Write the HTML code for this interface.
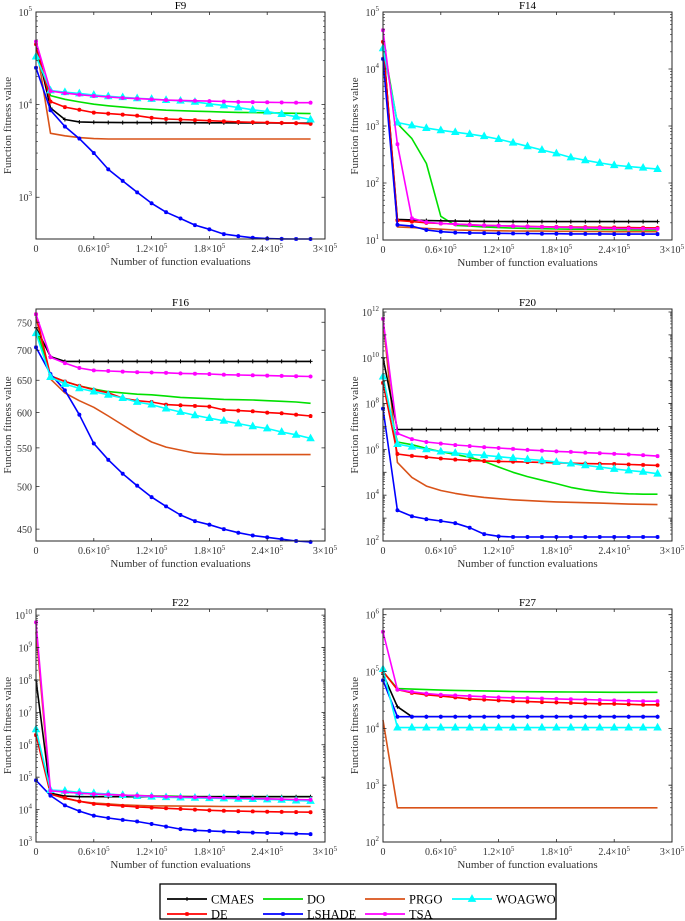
<!DOCTYPE html>
<html><head><meta charset="utf-8">
<style>
body{margin:0;background:#fff;}
svg{display:block;font-family:"Liberation Serif",serif;}
</style></head>
<body>
<svg id="fig" width="685" height="921" viewBox="0 0 685 921" xmlns="http://www.w3.org/2000/svg"></svg>
<script>
const evals = [0,15000,30000,45000,60000,75000,90000,105000,120000,135000,150000,165000,180000,195000,210000,225000,240000,255000,270000,285000];
const seriesNames = ["CMAES","DE","DO","LSHADE","PRGO","TSA","WOAGWO"];
const xTicks = [0,60000,120000,180000,240000,300000];
const xTickLabels = ["0","0.6","1.2","1.8","2.4","3"];

const f9CMAES = [45000,9200,6900,6500,6450,6420,6400,6400,6400,6400,6400,6380,6370,6360,6350,6340,6330,6320,6310,6300];
const f9DE = [45000,10800,9400,8800,8200,8000,7800,7600,7200,7000,6900,6800,6700,6600,6500,6450,6400,6350,6300,6200];
const f9DO = [35000,12500,11400,10700,10100,9700,9400,9100,8900,8700,8600,8500,8400,8300,8250,8200,8150,8100,8050,8000];
const f9LSHADE = [25000,8700,5800,4300,3000,2000,1500,1130,860,690,590,500,450,400,380,365,358,355,354,354];
const f9PRGO = [45000,4900,4600,4400,4300,4250,4250,4250,4250,4250,4250,4250,4250,4250,4250,4250,4250,4250,4250,4250];
const f9TSA = [48000,14000,13300,12800,12400,12100,11800,11600,11400,11200,11100,11000,10900,10800,10700,10650,10600,10550,10500,10500];
const f9WOAGWO = [33000,14200,13600,13200,12700,12300,12000,11700,11500,11200,11000,10700,10200,9800,9300,8800,8400,7900,7400,6900];

const f14CMAES = [30000,23,22.5,22,21.7,21.5,21.3,21.2,21.1,21,21,21,21,21,21,21,21,21,21,21];
const f14DE = [30000,22,21,20,19.5,19,18.5,18,17.8,17.5,17.3,17.1,17,16.9,16.8,16.7,16.6,16.5,16.4,16.3];
const f14DO = [30000,1100,600,220,26,18,17.5,17,16.5,16.2,16,15.8,15.6,15.5,15.4,15.3,15.2,15.1,15,15];
const f14LSHADE = [15000,18.5,17.5,15,14,13.5,13.3,13.2,13.1,13,13,12.9,12.9,12.8,12.8,12.8,12.7,12.7,12.7,12.7];
const f14PRGO = [30000,17,16.5,16,15.5,15,14.8,14.6,14.5,14.4,14.3,14.3,14.2,14.2,14.1,14.1,14,14,14,14];
const f14TSA = [48000,480,24,20.5,19.5,19,18.5,18,17.8,17.5,17.2,17,16.8,16.6,16.4,16.2,16,15.9,15.8,15.7];
const f14WOAGWO = [23000,1150,1020,920,840,780,720,660,590,510,440,380,330,280,250,225,205,195,185,175];

const f16CMAES = [740,689,681,681,681,681,681,681,681,681,681,681,681,681,681,681,681,681,681,681];
const f16DE = [765,657,648,641,635,630,622,618,616,612,611,610,609,604,603,602,600,599,597,595];
const f16DO = [740,657,648,641,636,632,630,628,627,625,623,622,621,620,619.5,619,618,617,616,614];
const f16LSHADE = [705,660,634,597,556,534,516,501,487,476,466,459,455,450,446,443,441,439,437,436];
const f16PRGO = [760,652,630,618,608,595,582,569,558,551,547,543,542,541,541,541,541,541,541,541];
const f16TSA = [765,688,678,670,666,665,664,663,662.5,662,661,660.5,660,659,658.5,658,657.5,657,656.5,656];
const f16WOAGWO = [730,655,644,637,632,627,622,616,612,606,601,596,592,588,584,580,577,572,568,563];

const f20CMAES = [1e10,7.4e6,7.4e6,7.4e6,7.4e6,7.4e6,7.4e6,7.4e6,7.4e6,7.4e6,7.4e6,7.4e6,7.4e6,7.4e6,7.4e6,7.4e6,7.4e6,7.4e6,7.4e6,7.4e6];
const f20DE = [8e8,6.3e5,5.2e5,4.6e5,4e5,3.6e5,3.3e5,3.1e5,3e5,2.9e5,2.8e5,2.7e5,2.6e5,2.5e5,2.4e5,2.35e5,2.3e5,2.2e5,2.1e5,2e5];
const f20DO = [1e9,2.1e6,1.6e6,1.1e6,8e5,6e5,4.5e5,3e5,1.7e5,1e5,6.5e4,4.5e4,3.2e4,2.2e4,1.7e4,1.4e4,1.25e4,1.15e4,1.1e4,1.1e4];
const f20LSHADE = [6e7,2.2e3,1.2e3,900,750,600,380,200,160,150,150,150,150,150,150,150,150,150,150,150];
const f20PRGO = [5e11,2.7e5,6e4,2.5e4,1.6e4,1.2e4,9.5e3,8e3,7e3,6.3e3,5.8e3,5.4e3,5.1e3,4.9e3,4.7e3,4.5e3,4.3e3,4.1e3,4e3,3.9e3];
const f20TSA = [5e11,5e6,2.8e6,2.1e6,1.8e6,1.55e6,1.4e6,1.25e6,1.15e6,1.05e6,9.5e5,8.8e5,8.2e5,7.8e5,7.2e5,6.8e5,6.4e5,6e5,5.6e5,5.1e5];
const f20WOAGWO = [1.5e9,1.7e6,1.3e6,1e6,8e5,7e5,6e5,5.5e5,4.8e5,4.2e5,3.7e5,3.3e5,2.8e5,2.4e5,2e5,1.7e5,1.4e5,1.2e5,1.05e5,8.7e4];

const f22CMAES = [1e8,3.2e4,2.6e4,2.5e4,2.5e4,2.5e4,2.5e4,2.5e4,2.5e4,2.5e4,2.5e4,2.5e4,2.5e4,2.5e4,2.5e4,2.5e4,2.5e4,2.5e4,2.5e4,2.5e4];
const f22DE = [2e6,3e4,2.3e4,1.8e4,1.5e4,1.4e4,1.3e4,1.2e4,1.15e4,1.1e4,1.05e4,1e4,9.5e3,9.2e3,9e3,8.8e3,8.6e3,8.5e3,8.4e3,8.3e3];
const f22DO = [2.5e6,4e4,3.5e4,3.2e4,3e4,2.9e4,2.8e4,2.7e4,2.65e4,2.6e4,2.55e4,2.5e4,2.5e4,2.5e4,2.5e4,2.5e4,2.5e4,2.5e4,2.5e4,2.5e4];
const f22LSHADE = [8e4,2.7e4,1.35e4,9e3,6.5e3,5.5e3,4.8e3,4.3e3,3.6e3,3e3,2.5e3,2.3e3,2.2e3,2.1e3,2e3,1.95e3,1.9e3,1.85e3,1.8e3,1.75e3];
const f22PRGO = [3e9,3e4,2.2e4,1.8e4,1.6e4,1.5e4,1.4e4,1.35e4,1.3e4,1.3e4,1.28e4,1.27e4,1.26e4,1.25e4,1.25e4,1.25e4,1.25e4,1.25e4,1.25e4,1.25e4];
const f22TSA = [6e9,3.8e4,3.5e4,3.2e4,3e4,2.9e4,2.8e4,2.7e4,2.6e4,2.5e4,2.45e4,2.4e4,2.35e4,2.3e4,2.25e4,2.2e4,2.15e4,2.1e4,2.05e4,2e4];
const f22WOAGWO = [3e6,4e4,3.8e4,3.4e4,3.2e4,3e4,2.8e4,2.6e4,2.5e4,2.4e4,2.35e4,2.3e4,2.25e4,2.2e4,2.15e4,2.1e4,2.05e4,2e4,1.9e4,1.85e4];

const f27CMAES = [9e4,2.4e4,1.6e4,1.6e4,1.6e4,1.6e4,1.6e4,1.6e4,1.6e4,1.6e4,1.6e4,1.6e4,1.6e4,1.6e4,1.6e4,1.6e4,1.6e4,1.6e4,1.6e4,1.6e4];
const f27DE = [1e5,4.8e4,4.2e4,3.9e4,3.7e4,3.5e4,3.3e4,3.2e4,3.1e4,3e4,2.95e4,2.9e4,2.85e4,2.8e4,2.75e4,2.7e4,2.7e4,2.65e4,2.6e4,2.6e4];
const f27DO = [1e5,5e4,4.9e4,4.8e4,4.7e4,4.65e4,4.6e4,4.55e4,4.5e4,4.45e4,4.42e4,4.4e4,4.38e4,4.36e4,4.34e4,4.32e4,4.3e4,4.3e4,4.3e4,4.3e4];
const f27LSHADE = [7e4,1.6e4,1.6e4,1.6e4,1.6e4,1.6e4,1.6e4,1.6e4,1.6e4,1.6e4,1.6e4,1.6e4,1.6e4,1.6e4,1.6e4,1.6e4,1.6e4,1.6e4,1.6e4,1.6e4];
const f27PRGO = [1.4e4,400,400,400,400,400,400,400,400,400,400,400,400,400,400,400,400,400,400,400];
const f27TSA = [5e5,4.8e4,4.4e4,4.1e4,3.9e4,3.8e4,3.7e4,3.6e4,3.5e4,3.45e4,3.4e4,3.35e4,3.3e4,3.25e4,3.2e4,3.15e4,3.1e4,3.05e4,3e4,3e4];
const f27WOAGWO = [1.1e5,1.03e4,1.03e4,1.03e4,1.03e4,1.03e4,1.03e4,1.03e4,1.03e4,1.03e4,1.03e4,1.03e4,1.03e4,1.03e4,1.03e4,1.03e4,1.03e4,1.03e4,1.03e4,1.03e4];

const f16Ticks = [450,500,550,600,650,700,750];

const NS = "http://www.w3.org/2000/svg";
const svg = document.getElementById('fig');
function mk(tag, attrs, parent){
  const e = document.createElementNS(NS, tag);
  for (const k in attrs) e.setAttribute(k, attrs[k]);
  (parent||svg).appendChild(e);
  return e;
}
const styles = {
  CMAES:{c:"#000000",m:"plus"},
  DE:{c:"#ff0000",m:"star"},
  DO:{c:"#00e000",m:"none"},
  LSHADE:{c:"#0000ff",m:"star"},
  PRGO:{c:"#d95319",m:"none"},
  TSA:{c:"#ff00ff",m:"star"},
  WOAGWO:{c:"#00ffff",m:"tri"}
};
const drawOrder = ["PRGO","DO","CMAES","DE","LSHADE","WOAGWO","TSA"];

const panels = [
  {title:"F9", box:[36,12,325,239], ymin:354, ymax:1e5, decStep:1,
   data:{CMAES:f9CMAES,DE:f9DE,DO:f9DO,LSHADE:f9LSHADE,PRGO:f9PRGO,TSA:f9TSA,WOAGWO:f9WOAGWO}},
  {title:"F14", box:[383,12,672,240], ymin:10, ymax:1e5, decStep:1,
   data:{CMAES:f14CMAES,DE:f14DE,DO:f14DO,LSHADE:f14LSHADE,PRGO:f14PRGO,TSA:f14TSA,WOAGWO:f14WOAGWO}},
  {title:"F16", box:[36,309,325,541], ymin:437, ymax:775, linTicks:f16Ticks,
   data:{CMAES:f16CMAES,DE:f16DE,DO:f16DO,LSHADE:f16LSHADE,PRGO:f16PRGO,TSA:f16TSA,WOAGWO:f16WOAGWO}},
  {title:"F20", box:[383,309,672,541], ymin:100, ymax:Math.pow(10,12.13), decStep:2,
   data:{CMAES:f20CMAES,DE:f20DE,DO:f20DO,LSHADE:f20LSHADE,PRGO:f20PRGO,TSA:f20TSA,WOAGWO:f20WOAGWO}},
  {title:"F22", box:[36,609,325,842], ymin:1000, ymax:Math.pow(10,10.19), decStep:1,
   data:{CMAES:f22CMAES,DE:f22DE,DO:f22DO,LSHADE:f22LSHADE,PRGO:f22PRGO,TSA:f22TSA,WOAGWO:f22WOAGWO}},
  {title:"F27", box:[383,609,672,842], ymin:100, ymax:Math.pow(10,6.1), decStep:1,
   data:{CMAES:f27CMAES,DE:f27DE,DO:f27DO,LSHADE:f27LSHADE,PRGO:f27PRGO,TSA:f27TSA,WOAGWO:f27WOAGWO}}
];

function marker(g, type, x, y, c){
  if (type==="plus"){
    mk('path',{d:`M${x-2},${y}H${x+2}M${x},${y-2}V${y+2}`,stroke:c,'stroke-width':1},g);
  } else if (type==="star"){
    mk('path',{d:`M${x-2},${y}H${x+2}M${x},${y-2}V${y+2}M${x-1.5},${y-1.5}L${x+1.5},${y+1.5}M${x-1.5},${y+1.5}L${x+1.5},${y-1.5}`,stroke:c,'stroke-width':1.2},g);
  } else if (type==="tri"){
    mk('path',{d:`M${x},${y-4}L${x+3.6},${y+2.5}L${x-3.6},${y+2.5}Z`,fill:c,stroke:c,'stroke-width':0.8},g);
  }
}

panels.forEach((p, pi)=>{
  const [L,T,R,B] = p.box;
  const isLog = !p.linTicks;
  const lmin = Math.log10(p.ymin), lmax = Math.log10(p.ymax);
  const xs = v => L + (v/300000)*(R-L);
  const ys = v => B - (Math.log10(v)-lmin)/(lmax-lmin)*(B-T);
  const g = mk('g',{});
  
  
  mk('rect',{x:L,y:T,width:R-L,height:B-T,fill:"#fff"},g);

  // series
  const sg = mk('g',{},g);
  
  
  drawOrder.forEach(name=>{
    const vals = p.data[name]; const st = styles[name];
    const pts = vals.map((v,i)=>xs(evals[i]).toFixed(1)+","+ys(v).toFixed(1)).join(" ");
    const line = mk('polyline',{points:pts,fill:"none",stroke:st.c,'stroke-width':1.6,'stroke-linejoin':'round'},sg);
    
    
    if (st.m!=="none") vals.forEach((v,i)=>marker(sg, st.m, xs(evals[i]), ys(v), st.c));
  });

  // frame
  mk('rect',{x:L,y:T,width:R-L,height:B-T,fill:"none",stroke:"#262626",'stroke-width':1},g);

  // x ticks
  xTicks.forEach((t,i)=>{
    const x = xs(t);
    mk('path',{d:`M${x},${B}V${B-3}M${x},${T}V${T+3}`,stroke:"#262626",'stroke-width':0.8},g);
    const tx = mk('text',{x:x, y:B+13,'font-size':10,fill:"#333",'text-anchor':'middle'},g);
    
    
    if (i===0) tx.textContent = "0";
    else {
      tx.textContent = xTickLabels[i] + "\u00d710";
      const sup = mk('tspan',{'font-size':7,dy:-4},tx); sup.textContent = "5";
    }
  });
  // y ticks
  if (isLog){
    for (let d=Math.ceil(lmin-1e-9); d<=Math.floor(lmax+1e-9); d++){
      for (let m=2;m<=9;m++){
        const v = m*Math.pow(10,d);
        if (v>p.ymin && v<p.ymax){
          const y = ys(v);
          mk('path',{d:`M${L},${y}H${L+2}M${R},${y}H${R-2}`,stroke:"#262626",'stroke-width':0.6},g);
        }
      }
      const y = ys(Math.pow(10,d));
      mk('path',{d:`M${L},${y}H${L+3.5}M${R},${y}H${R-3.5}`,stroke:"#262626",'stroke-width':0.8},g);
      if ((d - Math.ceil(lmin-1e-9)) % p.decStep === 0){
        const ty = mk('text',{x:L-4,y:y+4,'font-size':10,fill:"#333",'text-anchor':'end'},g);
        
        
        ty.textContent = "10";
        const sup = mk('tspan',{'font-size':7,dy:-5},ty); sup.textContent = String(d);
        // move back: measure via text-anchor end means sup counts; fine
      }
    }
  } else {
    p.linTicks.forEach(t=>{
      const y = ys(t);
      mk('path',{d:`M${L},${y}H${L+3.5}M${R},${y}H${R-3.5}`,stroke:"#262626",'stroke-width':0.8},g);
      const ty = mk('text',{x:L-4,y:y+4,'font-size':10,fill:"#333",'text-anchor':'end'},g);
      
      
      ty.textContent = String(t);
    });
  }
  // title
  const tt = mk('text',{x:(L+R)/2,y:T-3,'font-size':11,fill:"#000",'text-anchor':'middle'},g);
  
  
  tt.textContent = p.title;
  // x label
  const xl = mk('text',{x:(L+R)/2,y:B+26,'font-size':11,fill:"#333",'text-anchor':'middle'},g);
  
  
  xl.textContent = "Number of function evaluations";
  // y label
  const lx = L - 25;
  const yl = mk('text',{x:lx,y:(T+B)/2,'font-size':11,fill:"#333",'text-anchor':'middle',transform:`rotate(-90 ${lx} ${(T+B)/2})`},g);
  
  
  yl.textContent = "Function fitness value";
});

// legend
const lg = mk('g',{});


mk('rect',{x:160,y:884,width:396,height:35,fill:"#fff",stroke:"#000",'stroke-width':1.3},lg);
const legendPos = {
  CMAES:[167,899], DO:[263,899], PRGO:[365,899], WOAGWO:[452,899],
  DE:[167,914], LSHADE:[263,914], TSA:[365,914]
};
seriesNames.forEach(name=>{
  const [x,y] = legendPos[name]; const st = styles[name];
  const e = mk('g',{},lg);
  
  
  mk('line',{x1:x,y1:y,x2:x+40,y2:y,stroke:st.c,'stroke-width':1.8},e);
  if (st.m!=="none") marker(e, st.m, x+20, y, st.c);
  const t = mk('text',{x:x+44,y:y+4.5,'font-size':12.5,fill:"#000"},e);
  t.textContent = name;
});
</script>
</body></html>
